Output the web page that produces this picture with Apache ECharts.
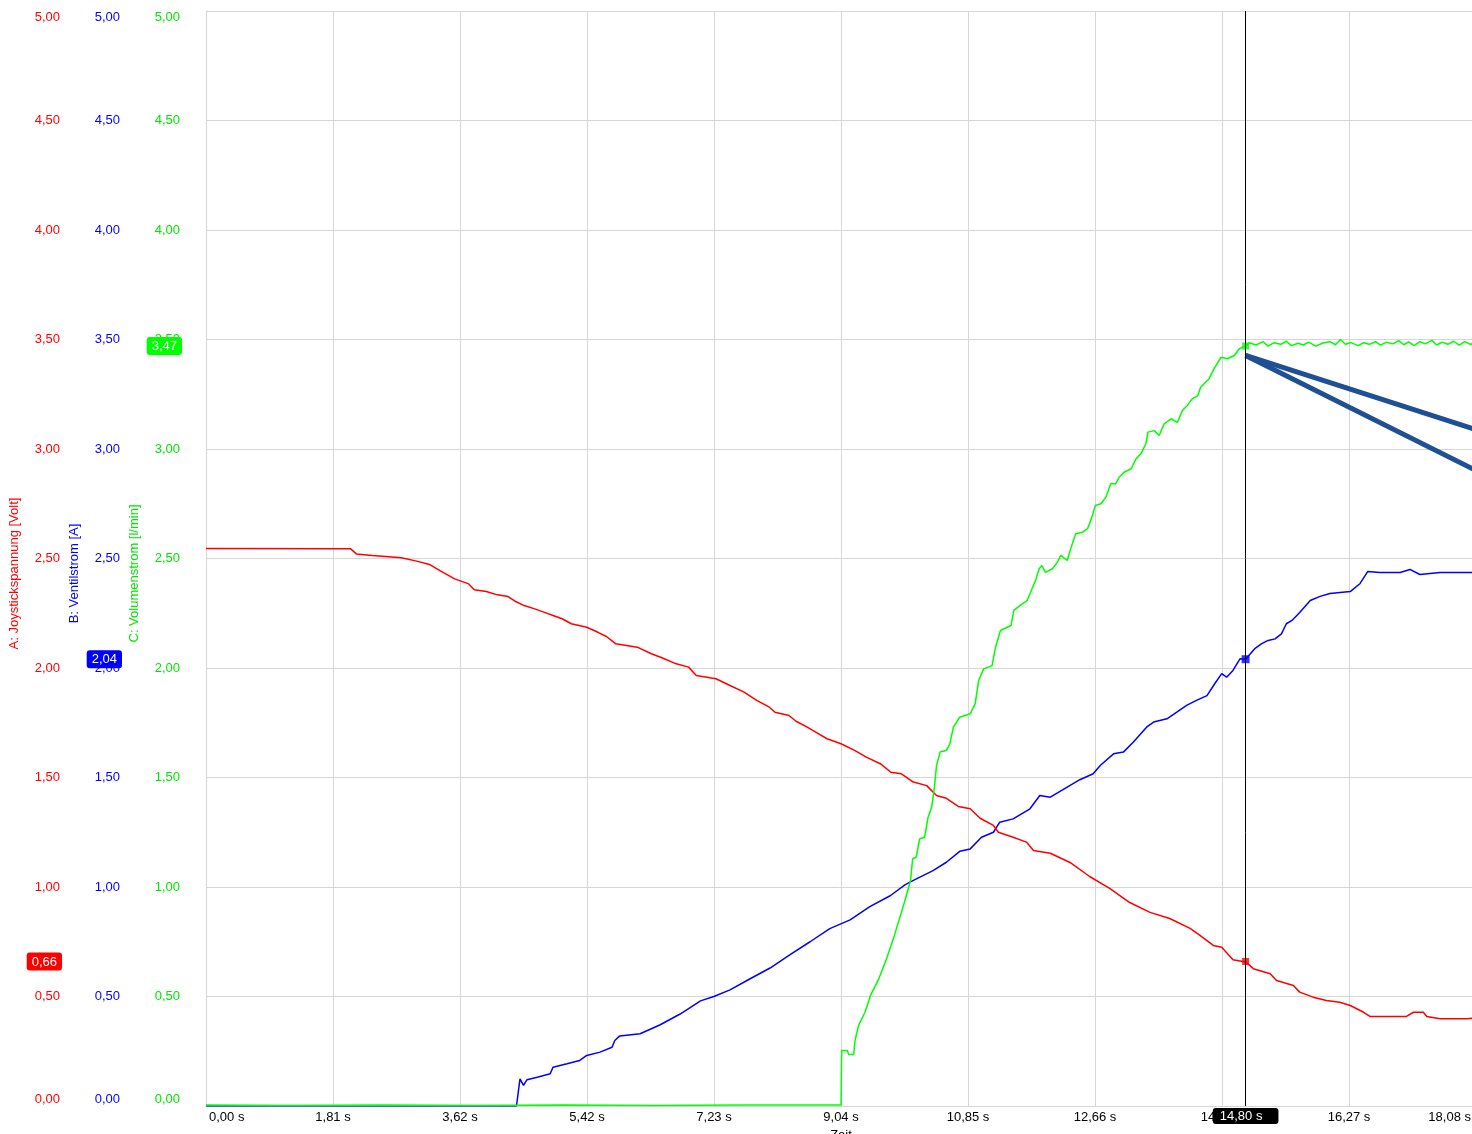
<!DOCTYPE html>
<html>
<head>
<meta charset="utf-8">
<script src="https://cdn.jsdelivr.net/npm/echarts@6/dist/echarts.min.js"></script>
<style>
html,body{margin:0;padding:0;background:#fff;overflow:hidden;}
#chart{width:1472px;height:1134px;}
</style>
</head>
<body>
<div id="chart"></div>
<script>
// ---- Data ----
const redTime = [0, 2.06, 2.14, 2.37, 2.78, 3.00, 3.18, 3.33, 3.54, 3.74, 3.82, 3.99, 4.15, 4.30, 4.40, 4.53, 4.68, 4.81, 4.94, 5.07, 5.20, 5.42, 5.58, 5.70, 5.83, 6.14, 6.34, 6.49, 6.67, 6.87, 6.98, 7.26, 7.46, 7.66, 7.84, 8.02, 8.10, 8.30, 8.40, 8.56, 8.68, 8.84, 9.04, 9.24, 9.40, 9.60, 9.75, 9.90, 10.07, 10.26, 10.40, 10.54, 10.71, 10.88, 11.02, 11.21, 11.28, 11.49, 11.68, 11.78, 12.02, 12.30, 12.58, 12.87, 13.15, 13.44, 13.72, 14.01, 14.15, 14.34, 14.46, 14.62, 14.80, 14.91, 15.15, 15.24, 15.48, 15.57, 15.76, 15.95, 16.14, 16.29, 16.48, 16.57, 17.09, 17.19, 17.33, 17.38, 17.57, 17.95, 18.08];
const redValue = [2.546, 2.544, 2.521, 2.514, 2.503, 2.488, 2.473, 2.445, 2.407, 2.384, 2.357, 2.349, 2.334, 2.326, 2.305, 2.285, 2.270, 2.255, 2.240, 2.225, 2.202, 2.186, 2.163, 2.144, 2.111, 2.095, 2.065, 2.047, 2.022, 2.004, 1.966, 1.951, 1.920, 1.890, 1.852, 1.821, 1.798, 1.783, 1.757, 1.730, 1.707, 1.677, 1.654, 1.623, 1.593, 1.563, 1.524, 1.517, 1.479, 1.463, 1.418, 1.405, 1.368, 1.357, 1.314, 1.281, 1.250, 1.227, 1.205, 1.167, 1.154, 1.112, 1.048, 0.993, 0.929, 0.884, 0.856, 0.811, 0.779, 0.733, 0.725, 0.668, 0.658, 0.627, 0.604, 0.573, 0.550, 0.520, 0.497, 0.482, 0.474, 0.459, 0.428, 0.409, 0.409, 0.428, 0.428, 0.409, 0.398, 0.398, 0.403];

const blueTime = [0, 4.42, 4.47, 4.52, 4.57, 4.73, 4.90, 4.94, 5.14, 5.32, 5.42, 5.61, 5.78, 5.82, 5.89, 6.18, 6.46, 6.75, 7.04, 7.23, 7.46, 7.74, 8.03, 8.31, 8.60, 8.88, 9.17, 9.45, 9.74, 9.95, 10.07, 10.35, 10.54, 10.73, 10.88, 11.04, 11.21, 11.30, 11.49, 11.73, 11.87, 12.02, 12.44, 12.63, 12.73, 12.92, 13.06, 13.20, 13.39, 13.49, 13.68, 13.82, 13.96, 14.10, 14.25, 14.36, 14.46, 14.53, 14.62, 14.72, 14.80, 14.93, 15.03, 15.12, 15.22, 15.31, 15.38, 15.46, 15.57, 15.72, 15.86, 16.00, 16.29, 16.43, 16.54, 16.71, 17.00, 17.14, 17.28, 17.57, 18.08];
const blueValue = [0, 0, 0.124, 0.094, 0.120, 0.132, 0.147, 0.177, 0.193, 0.208, 0.231, 0.246, 0.268, 0.299, 0.320, 0.330, 0.370, 0.420, 0.480, 0.500, 0.530, 0.580, 0.630, 0.690, 0.750, 0.810, 0.850, 0.910, 0.960, 1.010, 1.030, 1.075, 1.113, 1.163, 1.174, 1.227, 1.250, 1.296, 1.311, 1.357, 1.418, 1.410, 1.490, 1.517, 1.555, 1.608, 1.616, 1.661, 1.730, 1.753, 1.768, 1.798, 1.829, 1.852, 1.874, 1.928, 1.974, 1.958, 1.989, 2.042, 2.040, 2.088, 2.111, 2.126, 2.133, 2.156, 2.202, 2.217, 2.253, 2.308, 2.327, 2.340, 2.349, 2.386, 2.441, 2.436, 2.436, 2.450, 2.427, 2.436, 2.436];

const greenTime = [0, 1.2, 2.5, 3.8, 5.1, 6.4, 7.7, 9.04, 9.05, 9.13, 9.15, 9.22, 9.24, 9.29, 9.38, 9.46, 9.58, 9.69, 9.80, 9.93, 10.03, 10.06, 10.11, 10.16, 10.23, 10.28, 10.33, 10.37, 10.40, 10.45, 10.54, 10.59, 10.64, 10.73, 10.88, 10.95, 11.00, 11.07, 11.19, 11.24, 11.31, 11.46, 11.50, 11.62, 11.69, 11.76, 11.81, 11.86, 11.90, 11.95, 12.05, 12.12, 12.17, 12.26, 12.31, 12.38, 12.48, 12.55, 12.62, 12.66, 12.74, 12.81, 12.88, 12.95, 13.00, 13.07, 13.17, 13.24, 13.31, 13.38, 13.41, 13.50, 13.57, 13.64, 13.74, 13.83, 13.90, 13.97, 14.04, 14.12, 14.16, 14.28, 14.35, 14.45, 14.54, 14.64, 14.71, 14.80, 14.85, 14.95, 15.05, 15.12, 15.20, 15.30, 15.38, 15.45, 15.55, 15.62, 15.70, 15.80, 15.90, 16.00, 16.08, 16.15, 16.22, 16.30, 16.40, 16.48, 16.56, 16.65, 16.72, 16.80, 16.90, 16.98, 17.05, 17.12, 17.20, 17.28, 17.36, 17.45, 17.52, 17.60, 17.68, 17.76, 17.84, 17.92, 18.00, 18.08];
const greenValue = [0.004, 0.002, 0.005, 0.002, 0.004, 0.002, 0.005, 0.004, 0.253, 0.253, 0.235, 0.235, 0.299, 0.368, 0.427, 0.505, 0.582, 0.674, 0.779, 0.916, 1.030, 1.129, 1.136, 1.220, 1.227, 1.319, 1.364, 1.456, 1.555, 1.616, 1.623, 1.654, 1.730, 1.775, 1.791, 1.837, 1.943, 1.996, 2.011, 2.095, 2.171, 2.194, 2.263, 2.293, 2.308, 2.362, 2.400, 2.453, 2.468, 2.437, 2.453, 2.483, 2.514, 2.491, 2.544, 2.613, 2.620, 2.636, 2.696, 2.742, 2.750, 2.780, 2.841, 2.841, 2.871, 2.894, 2.910, 2.955, 2.978, 3.024, 3.077, 3.084, 3.062, 3.115, 3.138, 3.122, 3.176, 3.199, 3.229, 3.244, 3.282, 3.321, 3.366, 3.419, 3.412, 3.427, 3.458, 3.470, 3.485, 3.475, 3.490, 3.470, 3.485, 3.478, 3.492, 3.472, 3.483, 3.475, 3.488, 3.470, 3.484, 3.490, 3.476, 3.500, 3.478, 3.486, 3.472, 3.485, 3.478, 3.490, 3.474, 3.487, 3.480, 3.495, 3.476, 3.489, 3.472, 3.490, 3.480, 3.496, 3.475, 3.488, 3.478, 3.492, 3.474, 3.490, 3.478, 3.485];

// cursor readout
const cursorTime = 14.80;
const cursorRed = 0.66;
const cursorBlue = 2.04;
const cursorGreen = 3.47;

// annotation callout lines (start / two end points)
const calloutStart = [14.80, 3.427];
const calloutEndA = [18.08, 3.088];
const calloutEndB = [18.08, 2.902];

// axis settings
const timeTickStep = 1.808;
const timeMax = 18.08;
const valueMin = 0, valueMax = 5, valueStep = 0.5;
const axisNames = ['A: Joystickspannung [Volt]', 'B: Ventilstrom [A]', 'C: Volumenstrom [l/min]'];

// ---- Chart ----
const RED = '#ff0000', BLUE = '#0000ff', GREEN = '#00ff00';
const GREEN_TXT = '#00e400';
const GRID = '#d6d6d6';
const FONT = 'Liberation Sans, Arial, sans-serif';
const FS = 13;
const fmt = v => Number(v).toFixed(2).replace('.', ',');
const zip = (a, b) => a.map((t, i) => [t, b[i]]);

function mkY(color, txtColor, name, offset, split, cursorVal) {
  return {
    type: 'value', position: 'left', offset: offset,
    min: valueMin, max: valueMax, interval: valueStep,
    axisLine: { show: false }, axisTick: { show: false },
    splitLine: { show: split, lineStyle: { color: GRID, width: 1 } },
    axisLabel: {
      color: txtColor, fontSize: FS, fontFamily: FONT, margin: 8,
      formatter: v => fmt(v),
      verticalAlignMaxLabel: 'top', verticalAlignMinLabel: 'bottom'
    },
    name: name, nameLocation: 'middle', nameGap: 47, nameRotate: 90,
    nameTextStyle: { color: txtColor, fontSize: FS, fontFamily: FONT, padding: [0, 30, 0, 0] },
    axisPointer: {
      show: true, type: 'line', value: cursorVal, status: 'show', snap: false,
      triggerTooltip: false,
      lineStyle: { opacity: 0, width: 0 },
      label: {
        show: true, backgroundColor: color, color: '#fff', fontSize: FS, fontFamily: FONT,
        padding: [3, 5, 2, 5], margin: 6, formatter: p => fmt(p.value)
      }
    }
  };
}

const xLabelStyle = { color: '#000', fontSize: FS, fontFamily: FONT };

const chart = echarts.init(document.getElementById('chart'), null, { renderer: 'canvas' });
chart.setOption({
  animation: false,
  backgroundColor: '#fff',
  axisPointer: { triggerOn: 'none' },
  grid: { left: 206, right: -4, top: 11, bottom: 28, show: false, containLabel: false, outerBoundsMode: 'none' },
  xAxis: [{
    type: 'value', min: 0, max: timeMax, interval: timeTickStep,
    axisLine: { show: false }, axisTick: { show: false },
    splitLine: { show: true, lineStyle: { color: GRID, width: 1 } },
    axisLabel: {
      color: '#000', fontSize: FS, fontFamily: FONT, margin: 5,
      formatter: v => {
        const s = fmt(v) + ' s';
        if (v >= timeMax - 1e-6) return '{e|' + s + '}';
        if (v === 0) return '{b|' + s + '}';
        return s;
      },
      rich: {
        e: Object.assign({ padding: [0, 5, 0, 0] }, xLabelStyle),
        b: Object.assign({ padding: [0, 0, 0, 3] }, xLabelStyle)
      },
      showMinLabel: true, showMaxLabel: true,
      alignMinLabel: 'left', alignMaxLabel: 'right'
    },
    name: 'Zeit', nameLocation: 'middle', nameGap: 20,
    nameTextStyle: { color: '#000', fontSize: FS, fontFamily: FONT, verticalAlign: 'top' },
    axisPointer: {
      show: true, type: 'line', value: cursorTime, status: 'show', snap: false,
      triggerTooltip: false,
      lineStyle: { color: '#000', width: 1, type: 'solid' },
      label: {
        show: true, backgroundColor: '#000', color: '#fff', fontSize: FS, fontFamily: FONT,
        padding: [2, 16, 1, 7], margin: 2, formatter: p => fmt(p.value) + ' s'
      }
    }
  }, {
    // top frame line of the plot area
    type: 'value', position: 'top', min: 0, max: timeMax,
    axisLine: { show: true, lineStyle: { color: GRID, width: 1 } },
    axisTick: { show: false }, axisLabel: { show: false }, splitLine: { show: false }
  }],
  yAxis: [
    mkY(RED, RED, axisNames[0], 138, true, cursorRed),
    mkY(BLUE, BLUE, axisNames[1], 78, false, cursorBlue),
    mkY(GREEN, GREEN_TXT, axisNames[2], 18, false, cursorGreen),
    {
      // left frame line of the plot area
      type: 'value', position: 'left', offset: 0, min: valueMin, max: valueMax,
      axisLine: { show: true, lineStyle: { color: GRID, width: 1 } },
      axisTick: { show: false }, axisLabel: { show: false }, splitLine: { show: false }
    }
  ],
  series: [
    { type: 'line', yAxisIndex: 1, data: zip(blueTime, blueValue), symbol: 'none',
      lineStyle: { color: BLUE, width: 1.5 }, itemStyle: { color: BLUE } },
    { type: 'line', yAxisIndex: 0, data: zip(redTime, redValue), symbol: 'none',
      lineStyle: { color: RED, width: 1.5 }, itemStyle: { color: RED } },
    { type: 'line', yAxisIndex: 2, data: zip(greenTime, greenValue), symbol: 'none',
      lineStyle: { color: GREEN, width: 1.5 }, itemStyle: { color: GREEN } },
    { type: 'scatter', yAxisIndex: 0, data: [[cursorTime, cursorRed]], symbol: 'rect', symbolSize: 7, itemStyle: { color: RED } },
    { type: 'scatter', yAxisIndex: 1, data: [[cursorTime, cursorBlue]], symbol: 'rect', symbolSize: 8, itemStyle: { color: BLUE } },
    { type: 'scatter', yAxisIndex: 2, data: [[cursorTime, cursorGreen]], symbol: 'rect', symbolSize: 7, itemStyle: { color: GREEN } },
    { type: 'line', yAxisIndex: 2, data: [calloutStart, calloutEndA], symbol: 'none',
      lineStyle: { color: '#1f4f94', width: 5 } },
    { type: 'line', yAxisIndex: 2, data: [calloutStart, calloutEndB], symbol: 'none',
      lineStyle: { color: '#1f4f94', width: 5 } }
  ]
});
</script>
</body>
</html>
